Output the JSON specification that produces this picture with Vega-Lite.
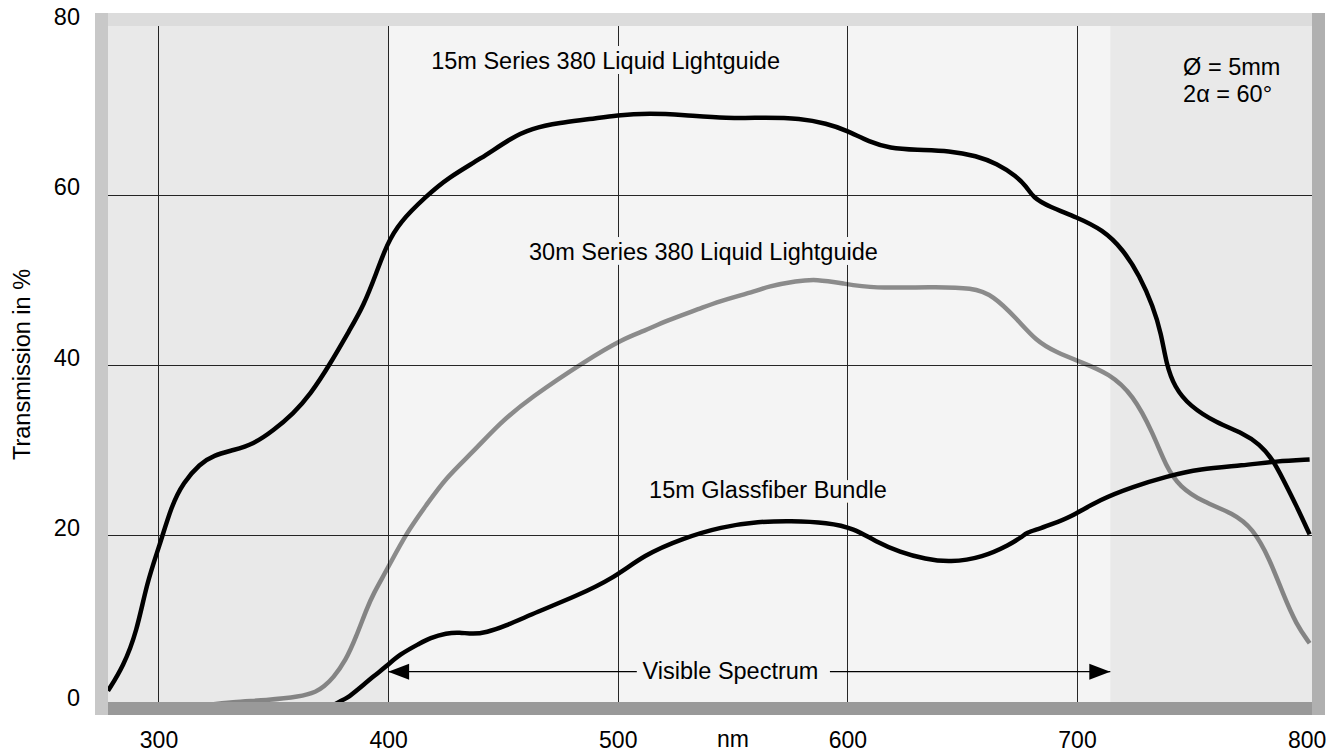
{
  "$schema": "https://vega.github.io/schema/vega-lite/v6.json",
  "width": 1217,
  "height": 689,
  "autosize": {"type": "none"},
  "padding": {"left": 101, "top": 19, "right": 14, "bottom": 43},
  "background": "white",
  "config": {
    "font": "Liberation Sans",
    "view": {"fill": "#f4f4f4", "stroke": null},
    "axis": {
      "ticks": false,
      "tickSize": 0,
      "domainCap": "square",
      "domainWidth": 13,
      "labelFont": "Liberation Sans",
      "labelFontSize": 23.5,
      "labelColor": "#000000",
      "labelFlush": false,
      "titleFont": "Liberation Sans",
      "titleFontWeight": "normal",
      "titleColor": "#000000",
      "gridColor": "#262626",
      "gridWidth": 1,
      "gridOpacity": 1
    }
  },
  "datasets": {
    "regions": [
      {"start": 260, "end": 400},
      {"start": 714.5, "end": 820}
    ],
    "curves": [
      {"series": "A", "nm": 278, "pct": 1.7},
      {"series": "A", "nm": 284.7, "pct": 4.6},
      {"series": "A", "nm": 290.5, "pct": 8.6},
      {"series": "A", "nm": 295, "pct": 14.5},
      {"series": "A", "nm": 300.5, "pct": 18.8},
      {"series": "A", "nm": 305.7, "pct": 23.5},
      {"series": "A", "nm": 310.8, "pct": 26.2},
      {"series": "A", "nm": 318, "pct": 28.4},
      {"series": "A", "nm": 324, "pct": 29.4},
      {"series": "A", "nm": 332.6, "pct": 30.0},
      {"series": "A", "nm": 341.3, "pct": 30.7},
      {"series": "A", "nm": 350, "pct": 32.3},
      {"series": "A", "nm": 358.7, "pct": 34.3},
      {"series": "A", "nm": 366, "pct": 36.5},
      {"series": "A", "nm": 374.7, "pct": 40.1},
      {"series": "A", "nm": 383.4, "pct": 44.2},
      {"series": "A", "nm": 389.2, "pct": 46.9},
      {"series": "A", "nm": 395, "pct": 50.9},
      {"series": "A", "nm": 399.3, "pct": 54.1},
      {"series": "A", "nm": 405, "pct": 56.8},
      {"series": "A", "nm": 416.8, "pct": 59.9},
      {"series": "A", "nm": 426, "pct": 62.0},
      {"series": "A", "nm": 440.6, "pct": 64.3},
      {"series": "A", "nm": 453.6, "pct": 66.7},
      {"series": "A", "nm": 462.3, "pct": 67.8},
      {"series": "A", "nm": 474.8, "pct": 68.5},
      {"series": "A", "nm": 488, "pct": 68.9},
      {"series": "A", "nm": 499.5, "pct": 69.4},
      {"series": "A", "nm": 514, "pct": 69.6},
      {"series": "A", "nm": 528.5, "pct": 69.4},
      {"series": "A", "nm": 547.4, "pct": 69.0},
      {"series": "A", "nm": 564.8, "pct": 69.1},
      {"series": "A", "nm": 579.3, "pct": 69.0},
      {"series": "A", "nm": 591, "pct": 68.4},
      {"series": "A", "nm": 599.6, "pct": 67.6},
      {"series": "A", "nm": 609.7, "pct": 66.2},
      {"series": "A", "nm": 618.4, "pct": 65.5},
      {"series": "A", "nm": 630, "pct": 65.3},
      {"series": "A", "nm": 644.6, "pct": 65.2},
      {"series": "A", "nm": 656.2, "pct": 64.6},
      {"series": "A", "nm": 665, "pct": 63.7},
      {"series": "A", "nm": 673.6, "pct": 62.2},
      {"series": "A", "nm": 678, "pct": 61.0},
      {"series": "A", "nm": 680.8, "pct": 59.7},
      {"series": "A", "nm": 688, "pct": 58.6},
      {"series": "A", "nm": 699.7, "pct": 57.4},
      {"series": "A", "nm": 711.3, "pct": 55.9},
      {"series": "A", "nm": 720, "pct": 53.6},
      {"series": "A", "nm": 727.3, "pct": 50.5},
      {"series": "A", "nm": 733.1, "pct": 46.9},
      {"series": "A", "nm": 736.7, "pct": 43.7},
      {"series": "A", "nm": 738.9, "pct": 40.1},
      {"series": "A", "nm": 742.5, "pct": 37.4},
      {"series": "A", "nm": 749, "pct": 35.2},
      {"series": "A", "nm": 760.7, "pct": 33.2},
      {"series": "A", "nm": 772.3, "pct": 32.0},
      {"series": "A", "nm": 779.5, "pct": 30.7},
      {"series": "A", "nm": 785.3, "pct": 28.9},
      {"series": "A", "nm": 789.7, "pct": 26.6},
      {"series": "A", "nm": 795.5, "pct": 23.5},
      {"series": "A", "nm": 801.3, "pct": 20.1},
      {"series": "B", "nm": 320, "pct": 0},
      {"series": "B", "nm": 332, "pct": 0.4},
      {"series": "B", "nm": 347, "pct": 0.6},
      {"series": "B", "nm": 361.6, "pct": 1.0},
      {"series": "B", "nm": 368.9, "pct": 1.6},
      {"series": "B", "nm": 372, "pct": 2.2},
      {"series": "B", "nm": 376, "pct": 3.2},
      {"series": "B", "nm": 381.6, "pct": 5.3},
      {"series": "B", "nm": 386, "pct": 8.0},
      {"series": "B", "nm": 390.6, "pct": 11.3},
      {"series": "B", "nm": 393.5, "pct": 13.1},
      {"series": "B", "nm": 399.6, "pct": 16.0},
      {"series": "B", "nm": 408, "pct": 20.3},
      {"series": "B", "nm": 416.8, "pct": 23.6},
      {"series": "B", "nm": 425, "pct": 26.7},
      {"series": "B", "nm": 437, "pct": 29.8},
      {"series": "B", "nm": 448.7, "pct": 33.2},
      {"series": "B", "nm": 461.6, "pct": 36.1},
      {"series": "B", "nm": 486.5, "pct": 40.6},
      {"series": "B", "nm": 502.4, "pct": 43.1},
      {"series": "B", "nm": 511.5, "pct": 44.0},
      {"series": "B", "nm": 521, "pct": 45.2},
      {"series": "B", "nm": 536.5, "pct": 46.7},
      {"series": "B", "nm": 543, "pct": 47.4},
      {"series": "B", "nm": 561.5, "pct": 48.8},
      {"series": "B", "nm": 564.8, "pct": 49.2},
      {"series": "B", "nm": 578.2, "pct": 49.9},
      {"series": "B", "nm": 586.5, "pct": 50.1},
      {"series": "B", "nm": 598, "pct": 49.6},
      {"series": "B", "nm": 611, "pct": 49.0},
      {"series": "B", "nm": 637, "pct": 49.2},
      {"series": "B", "nm": 654.7, "pct": 49.1},
      {"series": "B", "nm": 663.4, "pct": 48.2},
      {"series": "B", "nm": 673.6, "pct": 45.5},
      {"series": "B", "nm": 682.3, "pct": 42.8},
      {"series": "B", "nm": 691, "pct": 41.5},
      {"series": "B", "nm": 701.2, "pct": 40.4},
      {"series": "B", "nm": 714.2, "pct": 39.0},
      {"series": "B", "nm": 724.4, "pct": 36.5},
      {"series": "B", "nm": 733.1, "pct": 32.0},
      {"series": "B", "nm": 738.9, "pct": 28.0},
      {"series": "B", "nm": 744.7, "pct": 25.7},
      {"series": "B", "nm": 754.9, "pct": 23.9},
      {"series": "B", "nm": 767.9, "pct": 22.6},
      {"series": "B", "nm": 776.6, "pct": 20.8},
      {"series": "B", "nm": 783.9, "pct": 17.2},
      {"series": "B", "nm": 789.7, "pct": 13.1},
      {"series": "B", "nm": 795.5, "pct": 9.5},
      {"series": "B", "nm": 801.3, "pct": 7.3},
      {"series": "C", "nm": 376, "pct": 0},
      {"series": "C", "nm": 379, "pct": 0.5},
      {"series": "C", "nm": 382, "pct": 0.8},
      {"series": "C", "nm": 387, "pct": 1.9},
      {"series": "C", "nm": 394, "pct": 3.5},
      {"series": "C", "nm": 399.3, "pct": 4.6},
      {"series": "C", "nm": 405, "pct": 6.0},
      {"series": "C", "nm": 414, "pct": 7.3},
      {"series": "C", "nm": 418, "pct": 7.9},
      {"series": "C", "nm": 425.5, "pct": 8.5},
      {"series": "C", "nm": 431, "pct": 8.6},
      {"series": "C", "nm": 437, "pct": 8.35},
      {"series": "C", "nm": 443, "pct": 8.6},
      {"series": "C", "nm": 450, "pct": 9.2},
      {"series": "C", "nm": 465, "pct": 11.0},
      {"series": "C", "nm": 481.5, "pct": 12.8},
      {"series": "C", "nm": 498, "pct": 14.9},
      {"series": "C", "nm": 511.5, "pct": 17.7},
      {"series": "C", "nm": 528, "pct": 19.6},
      {"series": "C", "nm": 545, "pct": 21.0},
      {"series": "C", "nm": 561.5, "pct": 21.6},
      {"series": "C", "nm": 575, "pct": 21.7},
      {"series": "C", "nm": 591.5, "pct": 21.5},
      {"series": "C", "nm": 603, "pct": 20.8},
      {"series": "C", "nm": 612, "pct": 19.3},
      {"series": "C", "nm": 623, "pct": 18.0},
      {"series": "C", "nm": 634, "pct": 17.2},
      {"series": "C", "nm": 644.6, "pct": 16.8},
      {"series": "C", "nm": 659, "pct": 17.4},
      {"series": "C", "nm": 670.7, "pct": 18.9},
      {"series": "C", "nm": 676, "pct": 19.8},
      {"series": "C", "nm": 678, "pct": 20.3},
      {"series": "C", "nm": 683, "pct": 20.7},
      {"series": "C", "nm": 688, "pct": 21.2},
      {"series": "C", "nm": 697, "pct": 22.1},
      {"series": "C", "nm": 710, "pct": 24.2},
      {"series": "C", "nm": 724.4, "pct": 25.7},
      {"series": "C", "nm": 739, "pct": 26.9},
      {"series": "C", "nm": 753.4, "pct": 27.8},
      {"series": "C", "nm": 772.3, "pct": 28.2},
      {"series": "C", "nm": 786.8, "pct": 28.7},
      {"series": "C", "nm": 801.3, "pct": 28.9}
    ],
    "labels": [
      {"kind": "curve", "text": "15m Series 380 Liquid Lightguide", "nm": 494.7, "pct": 75.6},
      {"kind": "curve", "text": "30m Series 380 Liquid Lightguide", "nm": 537.3, "pct": 53.2},
      {"kind": "curve", "text": "15m Glassfiber Bundle", "nm": 565.4, "pct": 25.2},
      {"kind": "span", "text": "Visible Spectrum", "nm": 549.1, "pct": 3.96}
    ],
    "notes": [
      {"text": "Ø = 5mm", "nm": 746.2, "pct": 74.9},
      {"text": "2α = 60°", "nm": 746.2, "pct": 71.8}
    ],
    "arrowLines": [
      {"from": 400, "to": 508.3, "pct": 3.96},
      {"from": 592.4, "to": 714.5, "pct": 3.96}
    ],
    "arrowHeads": [
      {"dir": "left", "nm": 400, "pct": 3.96},
      {"dir": "right", "nm": 714.5, "pct": 3.96}
    ]
  },
  "resolve": {"axis": {"x": "independent", "y": "independent"}},
  "layer": [
    {
      "data": {"name": "regions"},
      "mark": {"type": "rect", "clip": true, "fill": "#000000", "opacity": 0.045},
      "encoding": {
        "x": {
          "field": "start", "type": "quantitative",
          "scale": {"domain": [274.96, 804.95], "nice": false, "zero": false},
          "axis": {
            "orient": "bottom", "values": [300, 400, 500, 600, 700, 800], "format": "d",
            "grid": false, "domain": true, "domainColor": "#999999", "zindex": 1,
            "labelPadding": 21, "labelBaseline": "top", "labelAlign": "center", "labelFontSize": 23,
            "title": "nm", "titleX": 631.5, "titleY": 38.5, "titleBaseline": "alphabetic",
            "titleAlign": "center", "titleFontSize": 23
          }
        },
        "x2": {"field": "end"},
        "y": {"value": 0},
        "y2": {"value": "height"}
      }
    },
    {
      "data": {"name": "curves"},
      "transform": [{"filter": "datum.series === 'B'"}],
      "mark": {"type": "line", "interpolate": "basis", "stroke": "#000000", "strokeOpacity": 0.43, "strokeWidth": 4.5},
      "encoding": {
        "x": {
          "field": "nm", "type": "quantitative",
          "scale": {"domain": [274.96, 804.95], "nice": false, "zero": false},
          "axis": {"orient": "bottom", "values": [300, 400, 500, 600, 700], "grid": true, "domain": false, "labels": false, "ticks": false, "title": null, "zindex": 0}
        },
        "y": {
          "field": "pct", "type": "quantitative",
          "scale": {"domain": [-0.31, 80.68], "nice": false, "zero": false},
          "axis": {"orient": "left", "values": [0, 20, 40, 60, 80], "grid": true, "domain": false, "labels": false, "ticks": false, "title": null, "zindex": 0}
        }
      }
    },
    {
      "data": {"name": "labels"},
      "transform": [{"filter": "datum.kind === 'curve'"}],
      "mark": {"type": "text", "font": "Liberation Sans", "fontSize": 23.5, "align": "center", "baseline": "middle", "fill": "#f4f4f4", "stroke": "#f4f4f4", "strokeWidth": 10, "strokeJoin": "round"},
      "encoding": {
        "x": {"field": "nm", "type": "quantitative", "axis": null},
        "y": {"field": "pct", "type": "quantitative", "axis": null},
        "text": {"field": "text"}
      }
    },
    {
      "data": {"name": "curves"},
      "transform": [{"filter": "datum.series !== 'B'"}],
      "mark": {"type": "line", "interpolate": "basis", "stroke": "#000000", "strokeWidth": 4.5},
      "encoding": {
        "x": {
          "field": "nm", "type": "quantitative",
          "scale": {"domain": [274.96, 804.95], "nice": false, "zero": false},
          "axis": {"orient": "top", "grid": false, "domain": true, "domainColor": "#dcdcdc", "labels": false, "ticks": false, "title": null, "zindex": 1}
        },
        "y": {
          "field": "pct", "type": "quantitative",
          "scale": {"domain": [-0.31, 80.68], "nice": false, "zero": false},
          "axis": {
            "orient": "left", "values": [0, 20, 40, 60, 80], "grid": false, "domain": true, "domainColor": "#c8c8c8", "zindex": 1,
            "labelPadding": 21.5, "labelAlign": "right", "labelBaseline": "alphabetic",
            "title": "Transmission in %", "titleFontSize": 23.5, "titleAngle": 270, "titleX": -79, "titleY": 345,
            "titleBaseline": "middle", "titleAlign": "center"
          }
        },
        "detail": {"field": "series"}
      }
    },
    {
      "data": {"name": "labels"},
      "mark": {"type": "text", "font": "Liberation Sans", "fontSize": 23.5, "align": "center", "baseline": "middle", "fill": "#000000"},
      "encoding": {
        "x": {"field": "nm", "type": "quantitative", "axis": null},
        "y": {"field": "pct", "type": "quantitative", "axis": null},
        "text": {"field": "text"}
      }
    },
    {
      "data": {"name": "notes"},
      "mark": {"type": "text", "font": "Liberation Sans", "fontSize": 23.5, "align": "left", "baseline": "middle", "fill": "#000000"},
      "encoding": {
        "x": {"field": "nm", "type": "quantitative", "axis": null},
        "y": {"field": "pct", "type": "quantitative", "axis": null},
        "text": {"field": "text"}
      }
    },
    {
      "data": {"name": "arrowLines"},
      "mark": {"type": "rule", "stroke": "#000000", "strokeWidth": 1.2},
      "encoding": {
        "x": {"field": "from", "type": "quantitative", "axis": null},
        "x2": {"field": "to"},
        "y": {
          "field": "pct", "type": "quantitative",
          "axis": {"orient": "right", "grid": false, "domain": true, "domainColor": "#b0b0b0", "labels": false, "ticks": false, "title": null, "zindex": 1}
        }
      }
    },
    {
      "data": {"name": "arrowHeads"},
      "mark": {"type": "point", "filled": true, "size": 441, "fill": "#000000", "stroke": null, "opacity": 1},
      "encoding": {
        "x": {"field": "nm", "type": "quantitative", "axis": null},
        "y": {"field": "pct", "type": "quantitative", "axis": null},
        "shape": {
          "field": "dir", "type": "nominal", "legend": null,
          "scale": {"domain": ["left", "right"], "range": ["M0,0L2,-0.76L2,0.76Z", "M0,0L-2,-0.76L-2,0.76Z"]}
        }
      }
    }
  ]
}
